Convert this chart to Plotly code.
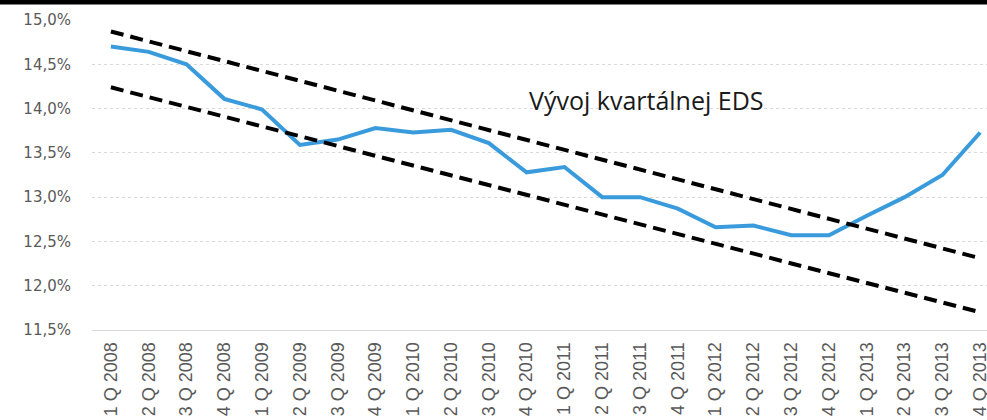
import plotly.graph_objects as go

quarters = [f"{q} Q {y}" for y in range(2008, 2014) for q in range(1, 5)]
eds = [14.70, 14.64, 14.50, 14.11, 13.99, 13.59, 13.65, 13.78, 13.73, 13.76, 13.61, 13.28,
       13.34, 13.00, 13.00, 12.87, 12.66, 12.68, 12.57, 12.57, 12.79, 13.00, 13.25, 13.73]
trend_x = [quarters[0], quarters[-1]]
upper_trend = [14.87, 12.31]
lower_trend = [14.24, 11.70]
y_ticks = [11.5, 12.0, 12.5, 13.0, 13.5, 14.0, 14.5, 15.0]
y_labels = [f"{v:.1f}%".replace(".", ",") for v in y_ticks]

fig = go.Figure()
fig.add_trace(go.Scatter(x=quarters, y=eds, mode="lines",
                         line=dict(color="#3A9BDC", width=4), showlegend=False))
for tr in (upper_trend, lower_trend):
    fig.add_trace(go.Scatter(x=trend_x, y=tr, mode="lines",
                             line=dict(color="black", width=4, dash="13px,7px"),
                             showlegend=False))

fig.add_shape(type="rect", xref="paper", yref="paper", x0=-0.2, x1=1.1,
              y0=1 + 15.5 / 310, y1=1 + 22 / 310, fillcolor="black", line_width=0, layer="above")

fig.add_annotation(text="Vývoj kvartálnej EDS", xref="paper", yref="paper",
                   x=0.619, y=0.742, xanchor="center", yanchor="middle", showarrow=False,
                   font=dict(family="Open Sans", size=25, color="#1a1a1a"))

fig.update_layout(
    width=987, height=420,
    margin=dict(l=92, r=0, t=20, b=90),
    paper_bgcolor="white", plot_bgcolor="white",
)
fig.update_xaxes(type="category", range=[-0.5, 23.18], tickangle=-90,
                 tickfont=dict(family="Liberation Sans", size=18, color="#595959"),
                 showgrid=False, showline=True, linecolor="#D9D9D9", linewidth=1,
                 ticks="", ticklabelstandoff=4, automargin=False)
fig.update_yaxes(range=[11.5, 15.0], tickvals=y_ticks, ticktext=y_labels,
                 tickfont=dict(family="DejaVu Sans", size=15, color="#595959"),
                 showgrid=True, gridcolor="#D9D9D9", griddash="dot", gridwidth=1,
                 zeroline=False, ticks="", ticklabelstandoff=20, automargin=False)

fig.write_html("out.html", config={"displayModeBar": False},
               post_script="document.body.style.margin='0';")
